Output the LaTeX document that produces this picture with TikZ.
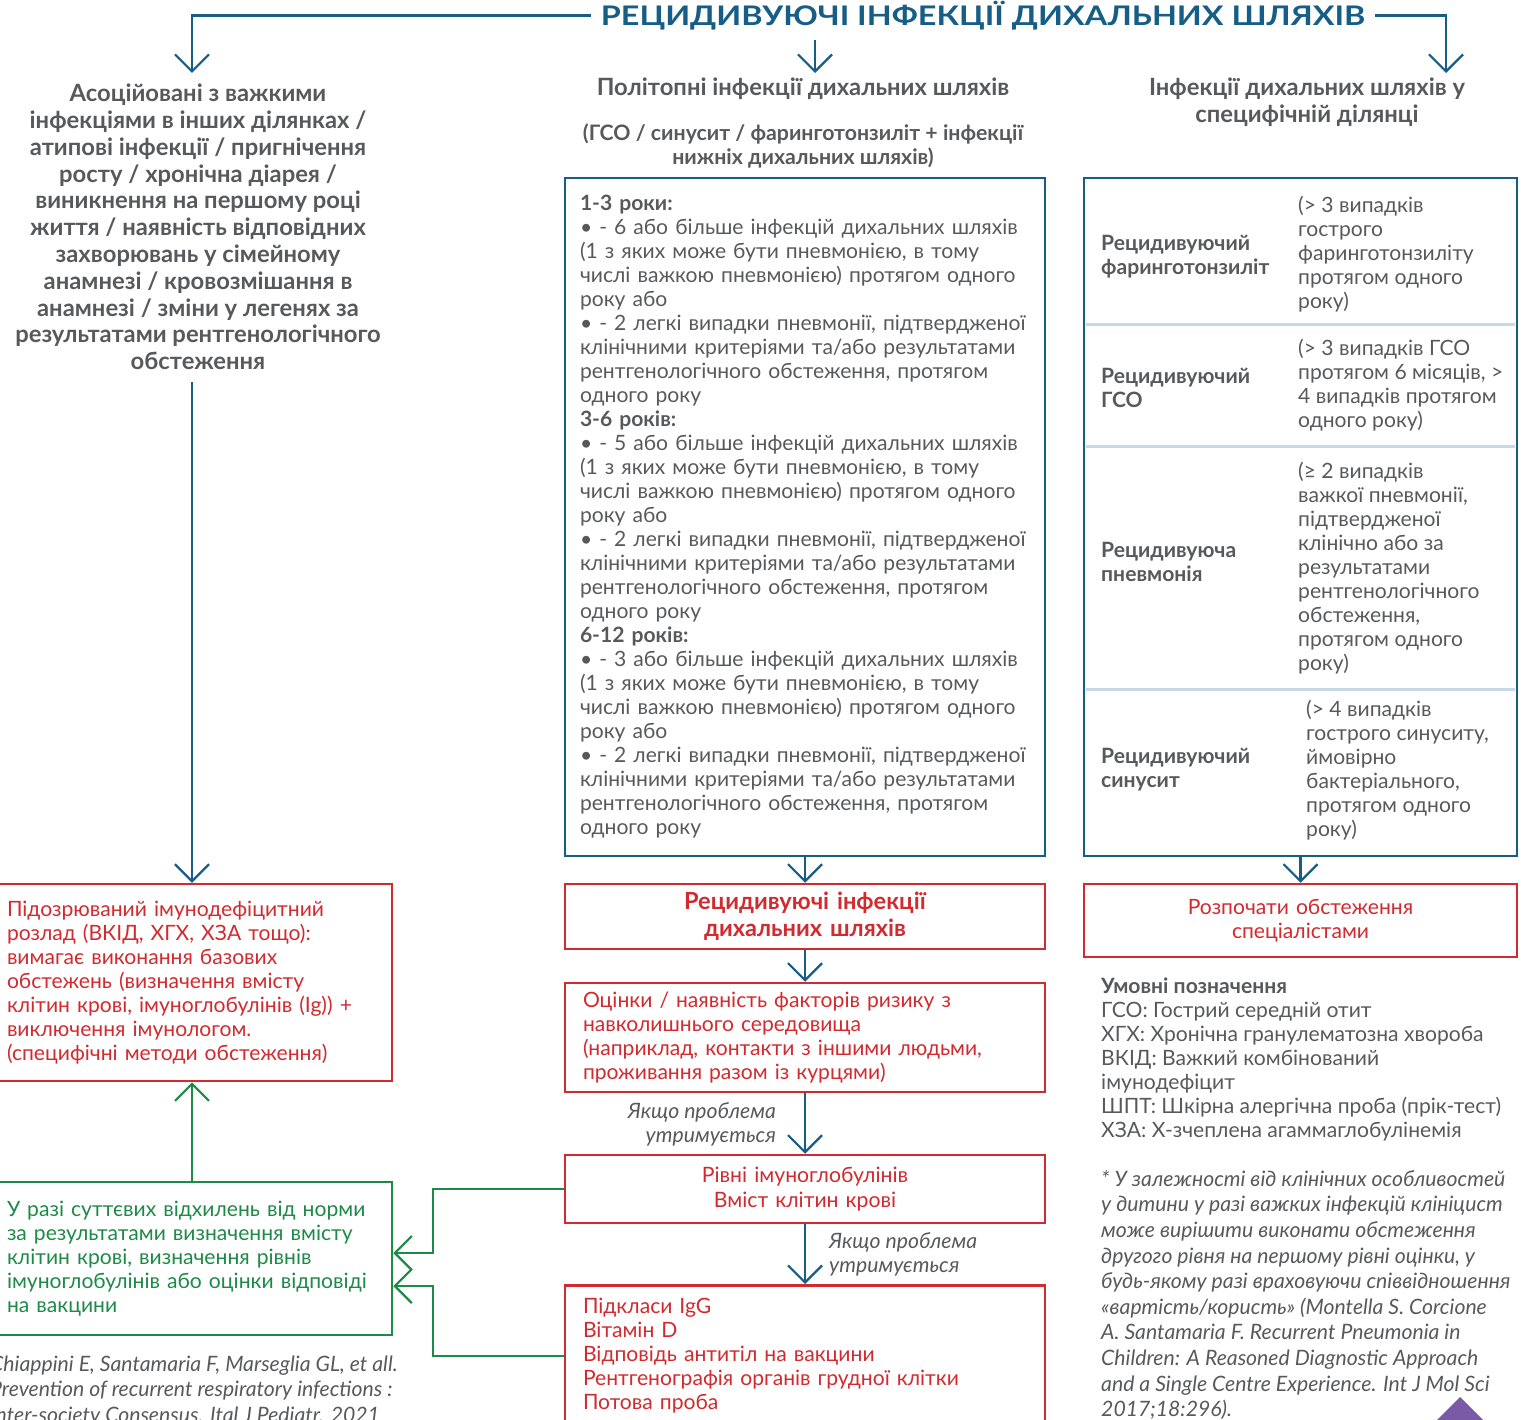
\documentclass[tikz,border=0pt]{standalone}
\usepackage{fontspec}
\setmainfont{Lato}
\newfontfamily\titlefont{Lato}[FakeStretch=1.2]
\usetikzlibrary{arrows.meta,positioning}
\definecolor{rdblue}{HTML}{175E86}
\definecolor{rdgray}{HTML}{58595B}
\definecolor{rdred}{HTML}{D12A2F}
\definecolor{rdgreen}{HTML}{1E8A48}
\definecolor{rdline}{HTML}{C4DAE7}
\definecolor{rdpurple}{HTML}{7A5AA6}
\tikzset{
  bodytext/.style={font={\fontsize{21.1}{24}\selectfont}},
  flow/.style={draw=rdblue, line width=2.2pt, -{Straight Barb[length=17pt,width=34pt]}},
  greenflow/.style={draw=rdgreen, line width=2.2pt, -{Straight Barb[length=17pt,width=34pt]}},
  bluebox/.style={draw=rdblue, line width=2.5pt, text=rdgray, inner xsep=15pt, align=left, bodytext},
  redbox/.style={draw=rdred, line width=2.5pt, text=rdred, inner xsep=18pt, bodytext},
  greenbox/.style={draw=rdgreen, line width=2.5pt, text=rdgreen, inner xsep=15pt, align=left, bodytext},
  head/.style={text=rdgray, inner sep=0pt, align=center, font={\bfseries\fontsize{23.8}{26.8}\selectfont}},
  rowlabel/.style={text=rdgray, inner sep=0pt, anchor=west, align=left, font={\bfseries\fontsize{21.1}{24}\selectfont}},
  rowtext/.style={text=rdgray, inner sep=0pt, anchor=west, align=left, bodytext},
  note/.style={text=rdgray, inner sep=0pt, anchor=west, align=left, font={\itshape\fontsize{21.2}{25.6}\selectfont}}
}
\begin{document}
\begin{tikzpicture}[x=1pt,y=-1pt]
\useasboundingbox (0,0) rectangle (1524,1420);
% title and the three branches
\node[text=rdblue, inner xsep=10pt, text height=19.5pt, text depth=0pt, font={\titlefont\bfseries\fontsize{27}{30}\selectfont}] (title) at (983,15.5) {РЕЦИДИВУЮЧІ ІНФЕКЦІЇ ДИХАЛЬНИХ ШЛЯХІВ};
\coordinate (lefttip) at (192,73);
\coordinate (midtop) at (815,40);
\coordinate (midtip) at (815,73);
\coordinate (righttip) at (1446,73);
\draw[flow] (title.west) -| (lefttip);
\draw[flow] (midtop) -- (midtip);
\draw[flow] (title.east) -| (righttip);
%% left column
\node[head] (assochead) at (198,227) {Асоційовані з важкими\\інфекціями в інших ділянках /\\атипові інфекції / пригнічення\\росту / хронічна діарея /\\виникнення на першому році\\життя / наявність відповідних\\захворювань у сімейному\\анамнезі / кровозмішання в\\анамнезі / зміни у легенях за\\результатами рентгенологічного\\обстеження};
\node[redbox, inner xsep=15pt, align=left, text width=370pt, minimum width=400pt, minimum height=197pt] (suspbox) at (192,982.5) {Підозрюваний імунодефіцитний\\розлад (ВКІД, ХГХ, ХЗА тощо):\\вимагає виконання базових\\обстежень (визначення вмісту\\клітин крові, імуноглобулінів (Ig)) +\\виключення імунологом.\\(специфічні методи обстеження)};
\node[greenbox, text width=370pt, minimum width=400pt, minimum height=153pt] (normbox) at (192,1258.5) {У разі суттєвих відхилень від норми\\за результатами визначення вмісту\\клітин крові, визначення рівнів\\імуноглобулінів або оцінки відповіді\\на вакцини};
\node[note] (citation) at (-10,1391) {Chiappini E, Santamaria F, Marseglia GL, et all.\\Prevention of recurrent respiratory infections :\\Inter-society Consensus. Ital J Pediatr. 2021};
\draw[flow, shorten <=12pt] (assochead.south -| suspbox.north) -- (suspbox.north);
\draw[greenflow] (normbox.north) -- (suspbox.south);
%% middle column
\node[head] (polyhead) at (803,89) {Політопні інфекції дихальних шляхів};
\node[head, font={\bfseries\fontsize{21.3}{24}\selectfont}] (polysub) at (803,146) {(ГСО / синусит / фаринготонзиліт + інфекції\\нижніх дихальних шляхів)};
\node[bluebox, text width=450pt, minimum width=480pt, minimum height=678pt] (polybox) at (805,517) {\textbf{1-3 роки:}\\
• - 6 або більше інфекцій дихальних шляхів\\
(1 з яких може бути пневмонією, в тому\\
числі важкою пневмонією) протягом одного\\
року або\\
• - 2 легкі випадки пневмонії, підтвердженої\\
клінічними критеріями та/або результатами\\
рентгенологічного обстеження, протягом\\
одного року\\
\textbf{3-6 років:}\\
• - 5 або більше інфекцій дихальних шляхів\\
(1 з яких може бути пневмонією, в тому\\
числі важкою пневмонією) протягом одного\\
року або\\
• - 2 легкі випадки пневмонії, підтвердженої\\
клінічними критеріями та/або результатами\\
рентгенологічного обстеження, протягом\\
одного року\\
\textbf{6-12 років:}\\
• - 3 або більше інфекцій дихальних шляхів\\
(1 з яких може бути пневмонією, в тому\\
числі важкою пневмонією) протягом одного\\
року або\\
• - 2 легкі випадки пневмонії, підтвердженої\\
клінічними критеріями та/або результатами\\
рентгенологічного обстеження, протягом\\
одного року};
\node[redbox, align=center, text width=444pt, minimum width=480pt, minimum height=65pt, font={\bfseries\fontsize{23.6}{27}\selectfont}] (rrbox) at (805,916.5) {Рецидивуючі інфекції\\дихальних шляхів};
\node[redbox, align=left, text width=444pt, minimum width=480pt, minimum height=109pt] (riskbox) at (805,1037.5) {Оцінки / наявність факторів ризику з\\навколишнього середовища\\(наприклад, контакти з іншими людьми,\\проживання разом із курцями)};
\node[redbox, align=center, text width=444pt, minimum width=480pt, minimum height=68pt, font={\fontsize{21.2}{25}\selectfont}] (igbox) at (805,1189) {Рівні імуноглобулінів\\Вміст клітин крові};
\node[redbox, align=left, text width=444pt, minimum width=480pt, inner ysep=13pt, anchor=north] (testbox) at (805,1284) {Підкласи IgG\\Вітамін D\\Відповідь антитіл на вакцини\\Рентгенографія органів грудної клітки\\Потова проба};
\draw[flow] (polybox.south) -- (rrbox.north);
\draw[flow] (rrbox.south) -- (riskbox.north);
\draw[flow] (riskbox.south) -- (igbox.north);
\draw[flow] (igbox.south) -- (testbox.north);
\node[note, anchor=east, align=right, font={\itshape\fontsize{21.2}{24}\selectfont}] (persist1) at (776,1124) {Якщо проблема\\утримується};
\node[note, font={\itshape\fontsize{21.2}{24}\selectfont}] (persist2) at (829,1254) {Якщо проблема\\утримується};
\draw[greenflow] (igbox.west) -- ++(-131,0) |- ([yshift=5.5pt]normbox.east);
\draw[greenflow] (testbox.west) -- ++(-131,0) |- ([yshift=-27.5pt]normbox.east);
%% right column
\node[head] (spechead) at (1307,102.5) {Інфекції дихальних шляхів у\\специфічній ділянці};
\node[draw=rdblue, line width=2.5pt, minimum width=433pt, minimum height=678pt] (specbox) at (1300.5,517) {};
\draw[rdline, line width=3pt] (1086,325) -- (1515,325);
\draw[rdline, line width=3pt] (1086,447) -- (1515,447);
\draw[rdline, line width=3pt] (1086,689) -- (1515,689);
\node[rowlabel] (pharlabel) at (1101,257) {Рецидивуючий\\фаринготонзиліт};
\node[rowtext] (phartext) at (1298,254) {(> 3 випадків\\гострого\\фаринготонзиліту\\протягом одного\\року)};
\node[rowlabel] (otitlabel) at (1101,388) {Рецидивуючий\\ГСО};
\node[rowtext] (otittext) at (1298,385) {(> 3 випадків ГСО\\протягом 6 місяців, >\\4 випадків протягом\\одного року)};
\node[rowlabel] (pneulabel) at (1101,562) {Рецидивуюча\\пневмонія};
\node[rowtext] (pneutext) at (1298,568) {(≥ 2 випадків\\важкої пневмонії,\\підтвердженої\\клінічно або за\\результатами\\рентгенологічного\\обстеження,\\протягом одного\\року)};
\node[rowlabel] (sinulabel) at (1101,770) {Рецидивуючий\\синусит};
\node[rowtext] (sinutext) at (1306,770) {(> 4 випадків\\гострого синуситу,\\ймовірно\\бактеріального,\\протягом одного\\року)};
\node[redbox, align=center, text width=397pt, minimum width=433pt, minimum height=73pt] (startbox) at (1300.5,920.5) {Розпочати обстеження\\спеціалістами};
\draw[flow] (specbox.south) -- (startbox.north);
\node[rowtext] (legend) at (1101,1059) {\textbf{Умовні позначення}\\ГСО: Гострий середній отит\\ХГХ: Хронічна гранулематозна хвороба\\ВКІД: Важкий комбінований\\імунодефіцит\\ШПТ: Шкірна алергічна проба (прік-тест)\\ХЗА: Х-зчеплена агаммаглобулінемія};
\node[note] (footnote) at (1101,1295) {* У залежності від клінічних особливостей\\у дитини у разі важких інфекцій клініцист\\може вирішити виконати обстеження\\другого рівня на першому рівні оцінки, у\\будь-якому разі враховуючи співвідношення\\«вартість/користь» (Montella S. Corcione\\A. Santamaria F. Recurrent Pneumonia in\\Children: A Reasoned Diagnostic Approach\\and a Single Centre Experience. Int J Mol Sci\\2017;18:296).};
% corner mark
\fill[rdpurple] (1460,1397) -- (1500,1437) -- (1420,1437) -- cycle;
\end{tikzpicture}
\end{document}
